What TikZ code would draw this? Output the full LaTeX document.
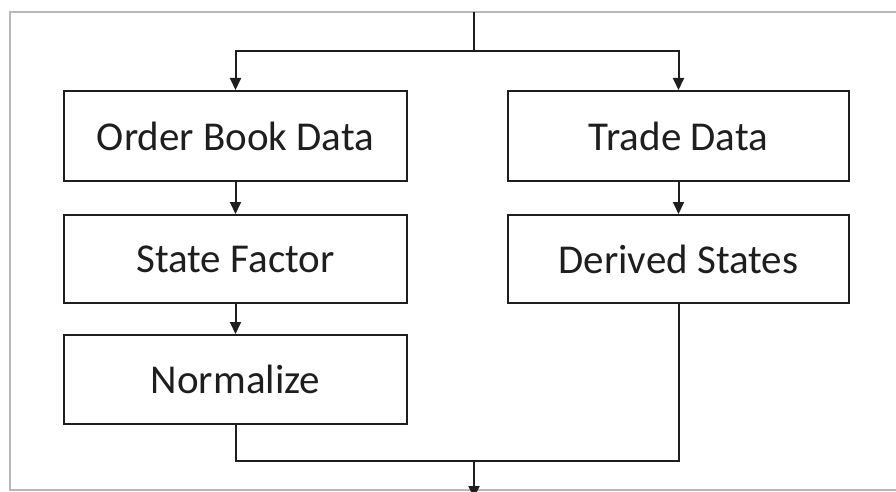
\documentclass[tikz,border=0pt]{standalone}
\usepackage{fontspec}
\setmainfont{Carlito}
\usetikzlibrary{arrows.meta}
\definecolor{ink}{HTML}{1E1E1E}
\definecolor{frame}{HTML}{B8B8B8}
\begin{document}
\begin{tikzpicture}[x=1pt,y=-1pt,
  stepbox/.style={draw=ink,line width=2pt,minimum width=343pt,minimum height=90pt,inner sep=0pt,anchor=north west},
  label/.style={text=ink,font=\fontsize{41}{49}\selectfont,inner sep=0pt},
  conn/.style={draw=ink,line width=2pt},
  arr/.style={conn,-{Triangle[length=12pt,width=11pt]}}]
\useasboundingbox (0,0) rectangle (896,492);
\clip (0,0) rectangle (896,492);
\draw[frame,line width=2pt] (10,12) rectangle (910,490);
\node[stepbox] (obd) at (63,90) {};
\node[label] (tobd) at (obd.center) {Order Book Data};
\node[stepbox,minimum height=88pt] (sf) at (63,214) {};
\node[label] (tsf) at (sf.center) {State Factor};
\node[stepbox,minimum height=89pt] (norm) at (63,334) {};
\node[label] (tnorm) at (norm.center) {Normalize};
\node[stepbox,minimum width=341pt] (td) at (507,90) {};
\node[label] (ttd) at (td.center) {Trade Data};
\node[stepbox,minimum width=341pt,minimum height=88pt] (ds) at (507,214) {};
\node[label] (tds) at (ds.center) {Derived States};
\coordinate (top) at (474,12);
\coordinate (split) at (474,51);
\coordinate (join) at (474,461);
\coordinate (out) at (474,498);
\draw[conn] (top) -- (split);
\draw[arr] (split) -| (obd.north);
\draw[arr] (split) -| (td.north);
\draw[arr] (obd.south) -- (sf.north);
\draw[arr] (sf.south) -- (norm.north);
\draw[arr] (td.south) -- (ds.north);
\draw[conn] (norm.south) |- (join);
\draw[conn] (ds.south) |- (join);
\draw[arr] (join) -- (out);
\end{tikzpicture}
\end{document}
